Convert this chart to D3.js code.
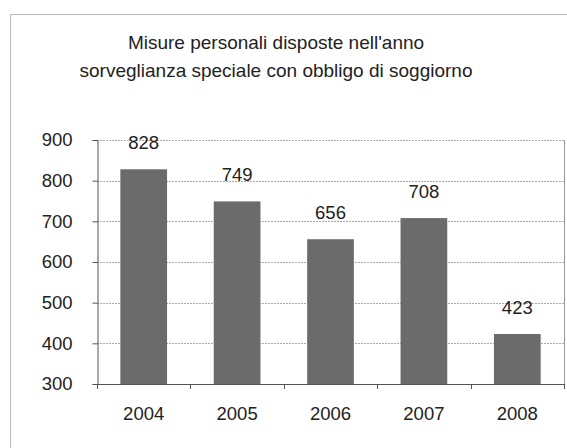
<!DOCTYPE html>
<html>
<head>
<meta charset="utf-8">
<script src="https://cdn.jsdelivr.net/npm/d3@7"></script>
<style>
  body { margin: 0; background: #fff; }
  text { font-family: "Liberation Sans", Arial, sans-serif; fill: #222; }
</style>
</head>
<body>
<div id="chart"></div>
<script>
// dati
const anni = ["2004", "2005", "2006", "2007", "2008"]
const misure = [828, 749, 656, 708, 423]
const yTicks = [300, 400, 500, 600, 700, 800, 900]
const titolo = ["Misure personali disposte nell'anno",
                "sorveglianza speciale con obbligo di soggiorno"]

const width = 567, height = 448
const margin = { top: 140, right: 3, bottom: 64, left: 97 }

const svg = d3.select("#chart").append("svg")
  .attr("width", width)
  .attr("height", height)

// cornice esterna
svg.append("rect")
  .attr("x", 10.5).attr("y", 14.5)
  .attr("width", 570).attr("height", 450)
  .attr("fill", "none")
  .attr("stroke", "#bbb")
  .attr("stroke-width", 1)

// titolo
svg.selectAll(".titolo")
  .data(titolo)
  .enter().append("text")
  .attr("class", "titolo")
  .attr("x", 276)
  .attr("y", (d, i) => 49 + i * 28)
  .attr("text-anchor", "middle")
  .style("font-size", "19px")
  .text(d => d)

let x = d3.scaleBand()
  .domain(anni)
  .range([margin.left, width - margin.right])
  .paddingInner(0.5)
  .paddingOuter(0.25)

let y = d3.scaleLinear()
  .domain([300, 900])
  .range([height - margin.bottom, margin.top])

// griglia orizzontale
svg.selectAll(".grid")
  .data(yTicks)
  .enter().append("line")
  .attr("x1", margin.left).attr("x2", width - margin.right)
  .attr("y1", d => Math.round(y(d)) + 0.5).attr("y2", d => Math.round(y(d)) + 0.5)
  .attr("stroke", "#aaa")
  .attr("stroke-dasharray", "2,1")

// bordo destro dell'area del grafico
svg.append("line")
  .attr("x1", width - margin.right + 0.5).attr("x2", width - margin.right + 0.5)
  .attr("y1", margin.top).attr("y2", height - margin.bottom)
  .attr("stroke", "#999")

// barre
svg.selectAll(".bar")
  .data(misure)
  .enter().append("rect")
  .attr("class", "bar")
  .attr("x", (d, i) => x(anni[i]))
  .attr("width", x.bandwidth())
  .attr("y", d => y(d))
  .attr("height", d => y(300) - y(d))
  .attr("fill", "#6b6b6b")

// etichette valori
svg.selectAll(".val")
  .data(misure)
  .enter().append("text")
  .attr("x", (d, i) => x(anni[i]) + x.bandwidth() / 2)
  .attr("y", d => y(d) - 20)
  .attr("text-anchor", "middle")
  .style("font-size", "18.5px")
  .text(d => d)

// asse y
let yAxis = svg.append("g")
  .attr("transform", `translate(${margin.left + 0.5},0)`)
  .call(d3.axisLeft(y).tickValues(yTicks).tickSize(5).tickPadding(20))
yAxis.select(".domain").attr("stroke", "#555")
yAxis.selectAll(".tick line").attr("stroke", "#555")
yAxis.selectAll("text").style("font-size", "18.5px").attr("fill", "#222")

// asse x con tacche ai confini delle categorie
let xb = d3.scaleLinear().domain([0, anni.length]).range([margin.left, width - margin.right])
svg.append("line")
  .attr("x1", margin.left).attr("x2", width - margin.right)
  .attr("y1", y(300) + 0.5).attr("y2", y(300) + 0.5)
  .attr("stroke", "#555")
svg.selectAll(".xtick")
  .data(d3.range(anni.length + 1))
  .enter().append("line")
  .attr("x1", d => Math.round(xb(d)) + 0.5).attr("x2", d => Math.round(xb(d)) + 0.5)
  .attr("y1", y(300)).attr("y2", y(300) + 5)
  .attr("stroke", "#555")

svg.selectAll(".xlab")
  .data(anni)
  .enter().append("text")
  .attr("x", d => x(d) + x.bandwidth() / 2)
  .attr("y", y(300) + 36)
  .attr("text-anchor", "middle")
  .style("font-size", "18.5px")
  .text(d => d)
</script>
</body>
</html>
